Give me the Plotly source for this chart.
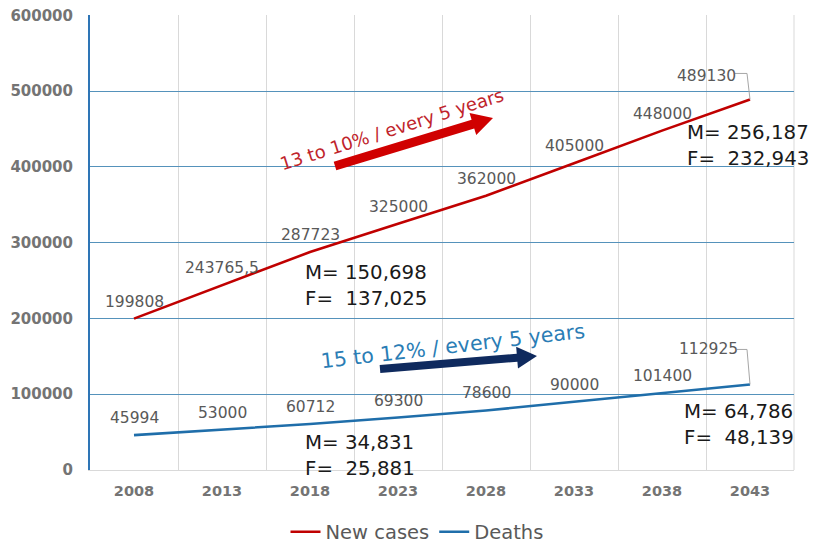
import math
import plotly.graph_objects as go

years = ["2008", "2013", "2018", "2023", "2028", "2033", "2038", "2043"]
new_cases = [199808, 243765.5, 287723, 325000, 362000, 405000, 448000, 489130]
deaths = [45994, 53000, 60712, 69300, 78600, 90000, 101400, 112925]
y_ticks = [0, 100000, 200000, 300000, 400000, 500000, 600000]

mf_notes = [
    ("M= 150,698", "F=  137,025"),
    ("M= 256,187", "F=  232,943"),
    ("M= 34,831", "F=  25,881"),
    ("M= 64,786", "F=  48,139"),
]
trend_notes = ["13 to 10% / every 5 years", "15 to 12% / every 5 years"]

RED = "#c00000"
BLUE = "#1f6eaa"
GRAY = "#595959"
FONT = "DejaVu Sans"

W, H = 813, 546
L, R, T, B = 90, 794, 15, 470


def px(x):
    return (x - L) / (R - L)


def py(y):
    return (B - y) / (B - T)


def fmt(v):
    if float(v).is_integer():
        return str(int(v))
    return repr(float(v)).replace(".", ",")


fig = go.Figure()
fig.add_trace(go.Scatter(x=years, y=new_cases, mode="lines", name="New cases",
                         line=dict(color=RED, width=2.6)))
fig.add_trace(go.Scatter(x=years, y=deaths, mode="lines", name="Deaths",
                         line=dict(color=BLUE, width=2.6)))

annotations = []
shapes = []

# data labels (x given as category index)
for series in (new_cases, deaths):
    for i, v in enumerate(series):
        if i == len(series) - 1:
            continue
        annotations.append(dict(x=i, y=v, xref="x", yref="y", text=fmt(v), showarrow=False,
                                xanchor="center", yanchor="middle",
                                yshift=17, font=dict(family=FONT, size=15.5, color=GRAY)))

# last labels with leader lines
last = len(years) - 1
for series, (dx, dy), path in ((new_cases, (-44, 23), "M-15,26 L-3,26 L0,0"),
                               (deaths, (-42, 35), "M-13,35 L-3,35 L0,0")):
    v = series[last]
    annotations.append(dict(x=last, y=v, xref="x", yref="y", text=fmt(v), showarrow=False,
                            xanchor="center", yanchor="middle",
                            xshift=dx, yshift=dy, font=dict(family=FONT, size=15.5, color=GRAY)))
    shapes.append(dict(type="path", xref="x", yref="y", xsizemode="pixel", ysizemode="pixel",
                       xanchor=last, yanchor=v, path=path, line=dict(color="#a6a6a6", width=1)))

# right border of the plot area
shapes.append(dict(type="line", xref="paper", yref="paper", x0=1, x1=1, y0=0, y1=1,
                   line=dict(color="#d9d9d9", width=1), layer="below"))

# M/F notes
mf_pos = [(303, 285.5), (685, 145), (303, 455), (682, 424.5)]
for (m, f), (x, y) in zip(mf_notes, mf_pos):
    annotations.append(dict(x=px(x), y=py(y), xref="paper", yref="paper", xanchor="left",
                            yanchor="middle", align="left", showarrow=False,
                            text=m + "<br>" + f.replace("  ", "\u00a0\u00a0"),
                            font=dict(family=FONT, size=19.8, color="#1a1a1a")))

# rotated trend notes
annotations.append(dict(x=px(391), y=py(129), xref="paper", yref="paper", showarrow=False,
                        xanchor="center", yanchor="middle",
                        text=trend_notes[0], textangle=-17.5,
                        font=dict(family=FONT, size=18, color="#c0242b")))
annotations.append(dict(x=px(453), y=py(346), xref="paper", yref="paper", showarrow=False,
                        xanchor="center", yanchor="middle",
                        text=trend_notes[1], textangle=-6.6,
                        font=dict(family=FONT, size=20.5, color="#2a7db5")))


def arrow_path(tail, tip, shaft_w, head_l, head_w):
    x0, y0 = tail
    x1, y1 = tip
    d = math.hypot(x1 - x0, y1 - y0)
    ux, uy = (x1 - x0) / d, (y1 - y0) / d
    nx, ny = -uy, ux
    bx, by = x1 - ux * head_l, y1 - uy * head_l
    pts = [
        (x0 + nx * shaft_w / 2, y0 + ny * shaft_w / 2),
        (bx + nx * shaft_w / 2, by + ny * shaft_w / 2),
        (bx + nx * head_w / 2, by + ny * head_w / 2),
        (x1, y1),
        (bx - nx * head_w / 2, by - ny * head_w / 2),
        (bx - nx * shaft_w / 2, by - ny * shaft_w / 2),
        (x0 - nx * shaft_w / 2, y0 - ny * shaft_w / 2),
    ]
    return "M" + " L".join(f"{px(a):.5f},{py(b):.5f}" for a, b in pts) + " Z"


shapes.append(dict(type="path", xref="paper", yref="paper",
                   path=arrow_path((335, 166), (493, 118), 9, 21, 23),
                   fillcolor="#d00000", line=dict(width=0)))
shapes.append(dict(type="path", xref="paper", yref="paper",
                   path=arrow_path((380, 369), (537, 356), 8, 20, 22),
                   fillcolor="#0f2a5e", line=dict(width=0)))

fig.update_layout(
    width=W, height=H,
    margin=dict(l=L, r=W - R, t=T, b=H - B, autoexpand=False),
    paper_bgcolor="white", plot_bgcolor="white",
    font=dict(family=FONT, color=GRAY),
    showlegend=True,
    legend=dict(orientation="h", x=px(417), xanchor="center", y=py(532), yanchor="middle",
                font=dict(family=FONT, size=19.5, color=GRAY), itemwidth=30,
                bgcolor="rgba(0,0,0,0)"),
    annotations=annotations,
    shapes=shapes,
    xaxis=dict(type="category", range=[-0.5, 7.5], tickson="boundaries",
               showgrid=True, gridcolor="#d9d9d9", gridwidth=1,
               showline=True, linecolor="#d9d9d9", linewidth=1,
               ticks="", ticklabelstandoff=8,
               tickfont=dict(family=FONT, size=14.5, color="#747474", weight="bold")),
    yaxis=dict(range=[0, 600600], tickvals=y_ticks, ticktext=[str(v) for v in y_ticks],
               showgrid=True, gridcolor="#5592bb", gridwidth=1, zeroline=False,
               showline=True, linecolor="#2e75b6", linewidth=2,
               ticks="", ticklabelstandoff=12,
               tickfont=dict(family=FONT, size=15, color="#747474", weight="bold")),
)

fig.write_html("out.html")
